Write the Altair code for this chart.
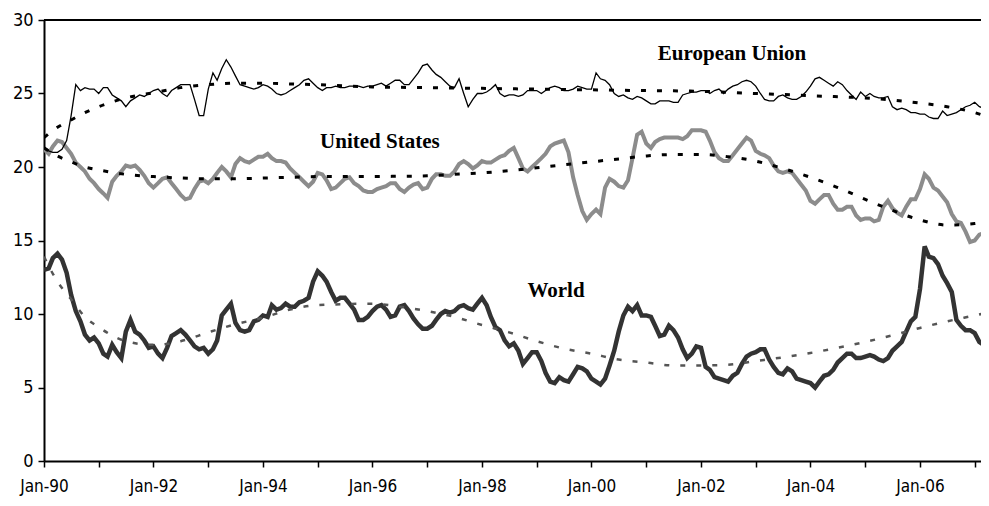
import altair as alt
import pandas as pd

# ---------------- data (monthly, Jan-1990 .. Apr-2007) ----------------
eu = [
    21.4, 21.1, 21.0, 21.0, 21.2, 21.8, 23.5, 25.6, 25.2, 25.4, 25.3, 25.3,   # 1990
    25.0, 25.4, 25.4, 24.9, 24.7, 24.5, 24.1, 24.5, 24.7, 24.9, 24.8, 25.0,   # 1991
    25.2, 25.3, 25.0, 24.8, 25.2, 25.4, 25.6, 25.6, 25.6, 24.6, 23.5, 23.5,   # 1992
    25.3, 26.4, 25.9, 26.7, 27.3, 26.8, 26.2, 25.6, 25.5, 25.4, 25.3, 25.4,   # 1993
    25.6, 25.5, 25.3, 25.0, 24.9, 25.0, 25.2, 25.4, 25.6, 25.9, 26.0, 25.7,   # 1994
    25.4, 25.2, 25.4, 25.4, 25.5, 25.4, 25.4, 25.5, 25.5, 25.5, 25.4, 25.5,   # 1995
    25.5, 25.6, 25.7, 25.5, 25.7, 25.9, 25.9, 25.6, 25.6, 26.0, 26.4, 26.9,   # 1996
    27.0, 26.6, 26.3, 26.1, 25.8, 25.5, 25.4, 26.0, 25.0, 24.1, 24.6, 25.0,   # 1997
    25.0, 25.1, 25.3, 25.6, 25.0, 24.8, 24.9, 24.9, 24.8, 24.9, 25.2, 25.2,   # 1998
    25.2, 25.0, 25.2, 25.4, 25.5, 25.4, 25.2, 25.2, 25.3, 25.5, 25.4, 25.3,   # 1999
    25.3, 26.4, 26.0, 25.9, 25.6, 25.0, 24.8, 24.9, 24.7, 24.6, 24.8, 24.7,   # 2000
    24.5, 24.3, 24.3, 24.5, 24.5, 24.5, 24.4, 24.4, 24.9, 25.0, 25.1, 25.1,   # 2001
    25.2, 25.2, 25.0, 25.2, 25.3, 25.0, 25.3, 25.5, 25.6, 25.8, 25.9, 25.8,   # 2002
    25.5, 25.0, 24.6, 24.5, 24.5, 24.8, 24.9, 24.7, 24.6, 24.6, 24.8, 25.1,   # 2003
    25.5, 26.0, 26.1, 25.9, 25.7, 25.5, 25.8, 25.6, 25.2, 24.9, 24.6, 25.1,   # 2004
    24.8, 25.0, 24.8, 24.7, 24.7, 24.8, 24.1, 23.9, 24.0, 23.9, 23.7, 23.7,   # 2005
    23.6, 23.6, 23.4, 23.3, 23.3, 23.8, 23.5, 23.6, 23.7, 23.9, 24.1, 24.2,   # 2006
    24.4, 24.1, 24.0, 23.9,                                                   # 2007
]

us = [
    21.2, 20.9, 21.4, 21.8, 21.7, 21.3, 20.9, 20.3, 20.0, 19.7, 19.2, 18.9,   # 1990
    18.5, 18.2, 17.9, 19.0, 19.4, 19.7, 20.1, 20.0, 20.1, 19.8, 19.4, 18.9,   # 1991
    18.6, 18.9, 19.2, 19.3, 18.9, 18.5, 18.1, 17.8, 17.9, 18.5, 19.0, 19.1,   # 1992
    18.9, 19.2, 19.6, 20.0, 19.7, 19.3, 20.2, 20.6, 20.4, 20.3, 20.5, 20.7,   # 1993
    20.7, 20.9, 20.6, 20.4, 20.4, 20.3, 19.9, 19.6, 19.3, 19.0, 18.7, 19.0,   # 1994
    19.6, 19.5, 19.1, 18.5, 18.6, 18.9, 19.2, 19.3, 18.9, 18.7, 18.4, 18.3,   # 1995
    18.3, 18.5, 18.6, 18.7, 18.9, 18.9, 18.5, 18.3, 18.6, 18.8, 18.9, 18.5,   # 1996
    18.6, 19.2, 19.5, 19.5, 19.4, 19.4, 19.7, 20.2, 20.4, 20.2, 19.9, 20.1,   # 1997
    20.4, 20.3, 20.3, 20.5, 20.7, 20.8, 21.1, 21.3, 20.6, 19.9, 19.7, 20.0,   # 1998
    20.3, 20.6, 20.9, 21.4, 21.6, 21.7, 21.8, 21.0, 19.3, 18.1, 17.0, 16.4,   # 1999
    16.8, 17.1, 16.8, 18.6, 19.2, 19.0, 18.7, 18.6, 19.1, 20.6, 22.2, 22.4,   # 2000
    21.6, 21.3, 21.7, 21.9, 22.0, 22.0, 22.0, 22.0, 21.9, 22.1, 22.5, 22.5,   # 2001
    22.5, 22.4, 21.8, 21.0, 20.6, 20.4, 20.4, 20.8, 21.2, 21.6, 22.0, 21.8,   # 2002
    21.1, 20.9, 20.8, 20.6, 20.1, 19.7, 19.6, 19.7, 19.6, 19.2, 18.8, 18.4,   # 2003
    17.7, 17.5, 17.8, 18.1, 18.1, 17.5, 17.1, 17.1, 17.3, 17.3, 16.7, 16.4,   # 2004
    16.5, 16.5, 16.3, 16.4, 17.3, 17.7, 17.2, 16.9, 16.7, 17.3, 17.8, 17.8,   # 2005
    18.5, 19.5, 19.2, 18.6, 18.4, 18.0, 17.6, 16.8, 16.3, 16.2, 15.6, 14.9,   # 2006
    15.0, 15.4, 15.5, 15.4,                                                   # 2007
]

world = [
    13.0, 13.1, 13.8, 14.1, 13.7, 12.8, 11.3, 10.2, 9.5, 8.6, 8.2, 8.4,       # 1990
    8.0, 7.3, 7.1, 7.9, 7.4, 7.0, 8.8, 9.6, 8.8, 8.6, 8.2, 7.7,               # 1991
    7.8, 7.3, 7.0, 7.7, 8.5, 8.7, 8.9, 8.6, 8.2, 7.8, 7.6, 7.7,               # 1992
    7.3, 7.6, 8.2, 9.9, 10.3, 10.7, 9.4, 8.9, 8.8, 8.9, 9.5, 9.6,             # 1993
    9.9, 9.8, 10.6, 10.3, 10.4, 10.7, 10.5, 10.5, 10.8, 10.9, 11.1, 12.2,     # 1994
    12.9, 12.6, 12.2, 11.5, 10.9, 11.1, 11.1, 10.7, 10.3, 9.6, 9.6, 9.8,      # 1995
    10.2, 10.5, 10.6, 10.3, 9.8, 9.9, 10.5, 10.6, 10.2, 9.7, 9.3, 9.0,       # 1996
    9.0, 9.2, 9.6, 10.0, 10.2, 10.1, 10.2, 10.5, 10.6, 10.4, 10.3, 10.7,     # 1997
    11.1, 10.6, 9.8, 9.1, 8.9, 8.2, 7.8, 8.0, 7.5, 6.6, 7.0, 7.4,            # 1998
    7.4, 6.8, 6.0, 5.4, 5.3, 5.7, 5.5, 5.4, 5.9, 6.4, 6.3, 6.1,              # 1999
    5.6, 5.4, 5.2, 5.6, 6.5, 7.5, 8.8, 9.9, 10.5, 10.2, 10.6, 9.9,           # 2000
    9.9, 9.8, 9.2, 8.5, 8.6, 9.2, 8.9, 8.4, 7.6, 7.0, 7.3, 7.8,              # 2001
    7.7, 6.4, 6.2, 5.7, 5.6, 5.5, 5.4, 5.8, 6.0, 6.6, 7.1, 7.3,              # 2002
    7.4, 7.6, 7.6, 6.9, 6.4, 6.0, 5.9, 6.3, 6.1, 5.6, 5.5, 5.4,              # 2003
    5.3, 5.0, 5.4, 5.8, 5.9, 6.2, 6.7, 7.0, 7.3, 7.3, 7.0, 7.0,              # 2004
    7.1, 7.2, 7.1, 6.9, 6.8, 7.0, 7.5, 7.8, 8.1, 8.8, 9.5, 9.8,              # 2005
    11.7, 14.6, 13.9, 13.8, 13.4, 12.6, 12.1, 11.5, 9.6, 9.2, 8.9, 8.9,      # 2006
    8.7, 8.1, 7.9, 7.3,                                                       # 2007
]

# trend lines, months after Jan-1990
trend_months = [0, 3, 6, 9, 12, 18, 24, 30, 36, 42, 48, 54, 60, 72, 78, 84, 90, 96,
                102, 108, 114, 120, 126, 132, 138, 144, 150, 156, 162, 168, 174,
                180, 186, 192, 198, 204, 207]
eu_trend = [22.0, 22.7, 23.2, 23.7, 24.1, 24.7, 25.05, 25.4, 25.6, 25.7, 25.7, 25.65,
            25.6, 25.45, 25.42, 25.4, 25.37, 25.35, 25.32, 25.3, 25.27, 25.25, 25.22,
            25.2, 25.18, 25.15, 25.08, 25.0, 24.93, 24.85, 24.78, 24.7, 24.55, 24.35,
            24.1, 23.7, 23.4]
us_trend = [21.3, 20.75, 20.35, 20.0, 19.8, 19.5, 19.35, 19.25, 19.2, 19.2, 19.25, 19.3,
            19.35, 19.35, 19.37, 19.4, 19.5, 19.6, 19.75, 19.95, 20.15, 20.35, 20.55,
            20.75, 20.85, 20.85, 20.7, 20.4, 19.9, 19.3, 18.6, 17.8, 17.05, 16.4,
            16.05, 16.15, 16.45]
world_trend = [13.9, 12.2, 11.0, 9.8, 9.1, 8.15, 7.9, 8.15, 8.75, 9.3, 9.75, 10.3,
               10.6, 10.7, 10.5, 10.2, 9.8, 9.25, 8.75, 8.15, 7.65, 7.3, 6.9, 6.7,
               6.5, 6.5, 6.55, 6.8, 7.05, 7.35, 7.7, 8.1, 8.55, 9.05, 9.5, 9.9, 10.1]

label_names = ["European Union", "United States", "World"]
label_dates = ["2002-07-27", "1996-02-20", "1999-05-10"]
label_values = [27.28, 21.29, 11.16]

y_ticks = [0, 5, 10, 15, 20, 25, 30]
tick_years = list(range(1990, 2008))

# ---------------- build tables ----------------
dates = pd.date_range("1990-01-01", periods=len(eu), freq="MS")
series_df = pd.DataFrame({"date": dates, "eu": eu, "us": us, "world": world})

base0 = pd.Timestamp("1990-01-01")
tdates = [base0 + pd.DateOffset(months=m) for m in trend_months]
trend_df = pd.DataFrame({"date": tdates, "eu": eu_trend, "us": us_trend, "world": world_trend})

labels_df = pd.DataFrame({"name": label_names, "date": pd.to_datetime(label_dates),
                          "value": label_values})

AXIS_FONT = "Liberation Sans Narrow, DejaVu Sans Condensed, sans-serif"

x_scale = alt.Scale(domain=[alt.DateTime(year=1990, month=1, date=1),
                            alt.DateTime(year=2007, month=2, date=12)], nice=False)
y_scale = alt.Scale(domain=[0, 30], nice=False, zero=True)

x_axis = alt.Axis(
    title=None, format="%b-%y",
    values=[alt.DateTime(year=y, month=1, date=1) for y in tick_years],
    labelExpr="year(datum.value) % 2 == 0 ? datum.label : ''",
    labelFont=AXIS_FONT, labelFontSize=17, labelColor="black",
    labelPadding=11, labelOverlap=False, labelFlush=False,
    tickSize=6, tickColor="black", tickWidth=1.5,
    domainColor="black", domainWidth=2, grid=False,
)
y_axis = alt.Axis(
    title=None, values=y_ticks,
    labelFont=AXIS_FONT, labelFontSize=18, labelColor="black",
    labelPadding=5, tickSize=6, tickColor="black", tickWidth=1.5,
    domainColor="black", domainWidth=2, grid=False,
)

base = alt.Chart(series_df)
X = alt.X("date:T", scale=x_scale, axis=x_axis)

eu_line = base.mark_line(color="black", strokeWidth=1.3, clip=True).encode(
    x=X, y=alt.Y("eu:Q", scale=y_scale, axis=y_axis))
us_line = base.mark_line(color="#8c8c8c", strokeWidth=4, clip=True).encode(
    x="date:T", y="us:Q")
world_line = base.mark_line(color="#333333", strokeWidth=4.5, clip=True).encode(
    x="date:T", y="world:Q")

tbase = alt.Chart(trend_df)
eu_tr = tbase.mark_line(color="black", strokeWidth=3, strokeDash=[5, 11],
                        interpolate="monotone", clip=True).encode(x="date:T", y="eu:Q")
us_tr = tbase.mark_line(color="black", strokeWidth=3, strokeDash=[5, 11],
                        interpolate="monotone", clip=True).encode(x="date:T", y="us:Q")
world_tr = tbase.mark_line(color="#555555", strokeWidth=2.5, strokeDash=[5, 11],
                           interpolate="monotone", clip=True).encode(x="date:T", y="world:Q")

top_rule = alt.Chart(pd.DataFrame({"v": [30]})).mark_rule(
    color="black", strokeWidth=2).encode(y="v:Q")

texts = alt.Chart(labels_df).mark_text(
    font="Liberation Serif", fontWeight="bold", fontSize=21,
    align="center", baseline="alphabetic", color="black").encode(
    x="date:T", y="value:Q", text="name:N")

chart = alt.layer(
    world_line, us_line, eu_line, world_tr, us_tr, eu_tr, top_rule, texts
).properties(
    width=937, height=441,
    autosize=alt.AutoSizeParams(type="none"),
    padding={"left": 36, "top": 12, "right": 0, "bottom": 37},
).configure_view(stroke=None).configure(background="white")

chart.save("out.html", embed_options={"renderer": "svg", "actions": False})
